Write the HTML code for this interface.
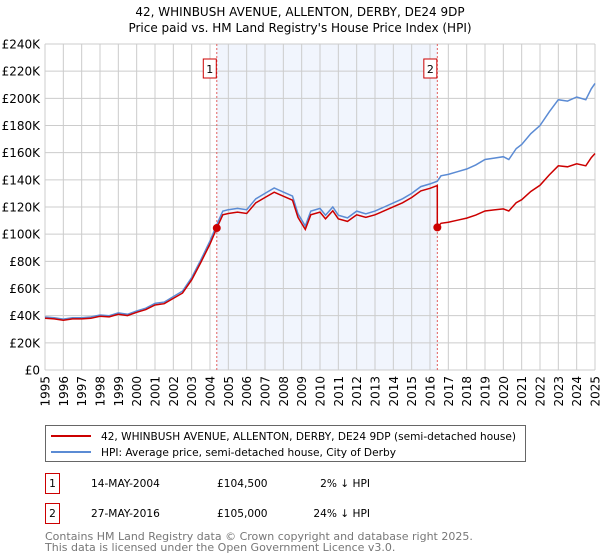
<!DOCTYPE html>
<html><head><meta charset="utf-8"><style>
body{margin:0;background:#fff;font-family:"Liberation Sans","DejaVu Sans",sans-serif;}
#wrap{position:relative;width:600px;height:560px;overflow:hidden;}
</style></head><body>
<div id="wrap">
<svg id="chart" width="600" height="560" style="position:absolute;left:0;top:0;font-family:'DejaVu Sans','Liberation Sans',sans-serif;"></svg>
</div>
<script>
const hpiYears=[1995.0,1995.5,1996.0,1996.5,1997.0,1997.5,1998.0,1998.5,1999.0,1999.5,2000.0,2000.5,2001.0,2001.5,2002.0,2002.5,2003.0,2003.5,2004.0,2004.37,2004.7,2005.0,2005.5,2006.0,2006.5,2007.0,2007.5,2008.0,2008.5,2008.8,2009.2,2009.5,2010.0,2010.3,2010.7,2011.0,2011.5,2012.0,2012.5,2013.0,2013.5,2014.0,2014.5,2015.0,2015.5,2016.0,2016.4,2016.6,2017.0,2017.5,2018.0,2018.5,2019.0,2019.5,2020.0,2020.3,2020.7,2021.0,2021.5,2022.0,2022.5,2023.0,2023.5,2024.0,2024.5,2024.8,2025.0];
const hpiValues=[39,38.5,37.5,38.5,38.5,39,40.5,40,42,41,43.5,45.5,49,50,54,58,68,81,95,107,117,118,119,118,126,130,134,131,128,115,106,117,119,114,120,114,112,117,115,117,120,123,126,130,135,137,139,143,144,146,148,151,155,156,157,155,163,166,174,180,190,199,198,201,199,207,211];
const saleYears=[2004.37,2016.4];
const salePrices=[104.5,105];
const saleLabels=["1","2"];
const yTicks=[0,20,40,60,80,100,120,140,160,180,200,220,240];
const xTicks=[1995,1996,1997,1998,1999,2000,2001,2002,2003,2004,2005,2006,2007,2008,2009,2010,2011,2012,2013,2014,2015,2016,2017,2018,2019,2020,2021,2022,2023,2024,2025];

const NS="http://www.w3.org/2000/svg";
const svg=document.getElementById('chart');
const X0=45,X1=595,Y0=370,Y1=44;
const xs=y=>X0+(y-1995)/30*(X1-X0);
const ys=v=>Y0-v/240*(Y0-Y1);
function mk(t,a,p){const e=document.createElementNS(NS,t);for(const k in a)e.setAttribute(k,a[k]);(p||svg).appendChild(e);return e;}
function hpiAt(y){for(let i=1;i<hpiYears.length;i++){if(y<=hpiYears[i]){const t=(y-hpiYears[i-1])/(hpiYears[i]-hpiYears[i-1]);return hpiValues[i-1]+t*(hpiValues[i]-hpiValues[i-1]);}}return hpiValues[hpiValues.length-1];}

let t;
t=mk('text',{x:300,y:16,'text-anchor':'middle','font-size':12});t.textContent="42, WHINBUSH AVENUE, ALLENTON, DERBY, DE24 9DP";

t=mk('text',{x:300,y:32,'text-anchor':'middle','font-size':12});t.textContent="Price paid vs. HM Land Registry's House Price Index (HPI)";


let r=mk('rect',{x:xs(saleYears[0]),y:Y1,width:xs(saleYears[1])-xs(saleYears[0]),height:Y0-Y1,fill:'#eef3fc',opacity:0.8});


yTicks.forEach(v=>{
  let l=mk('line',{x1:X0,x2:X1,y1:ys(v),y2:ys(v),stroke:'#cccccc','stroke-width':1});
  
  let tx=mk('text',{x:X0-5,y:ys(v)+4.5,'text-anchor':'end','font-size':12,fill:'#000'});tx.textContent='£'+(v===0?'0':v+'K');
  
});
xTicks.forEach(y=>{
  let l=mk('line',{x1:xs(y),x2:xs(y),y1:Y1,y2:Y0,stroke:'#cccccc','stroke-width':1});
  
  let tx=mk('text',{x:0,y:0,'text-anchor':'end','font-size':12,transform:`translate(${xs(y)+4.5},376) rotate(-90)`});tx.textContent=y;
  
});

saleYears.forEach((sy,i)=>{
  let l=mk('line',{x1:xs(sy),x2:xs(sy),y1:Y1,y2:Y0,stroke:'#e06060','stroke-width':1,'stroke-dasharray':'2,2'});
  
  let b=mk('rect',{x:xs(sy)-13.5,y:59,width:13,height:19,fill:'#fff',stroke:'#cc0000','stroke-width':1});
  
  let tx=mk('text',{x:xs(sy)-7,y:73,'text-anchor':'middle','font-size':11});tx.textContent=saleLabels[i];
  
});

let d=hpiYears.map((y,i)=>(i?'L':'M')+xs(y).toFixed(1)+','+ys(hpiValues[i]).toFixed(1)).join('');
let p=mk('path',{d:d,fill:'none',stroke:'#5b8bd4','stroke-width':1.5});


const ratio1=salePrices[0]/hpiAt(saleYears[0]);
const ratio2=salePrices[1]/hpiAt(saleYears[1]);
let pts=[];
hpiYears.forEach((y,i)=>{ if(y<saleYears[1]) pts.push([y,hpiValues[i]*ratio1]); });
pts.push([saleYears[1],hpiAt(saleYears[1])*ratio1]);
pts.push([saleYears[1],salePrices[1]]);
hpiYears.forEach((y,i)=>{ if(y>saleYears[1]) pts.push([y,hpiValues[i]*ratio2]); });
d=pts.map((q,i)=>(i?'L':'M')+xs(q[0]).toFixed(1)+','+ys(q[1]).toFixed(1)).join('');
p=mk('path',{d:d,fill:'none',stroke:'#cc0000','stroke-width':1.5});


saleYears.forEach((sy,i)=>{
  let c=mk('circle',{cx:xs(sy),cy:ys(salePrices[i]),r:4,fill:'#cc0000'});
  
});

let g=mk('rect',{x:45.5,y:425.5,width:480,height:36,fill:'#fff',stroke:'#666','stroke-width':1});

mk('line',{x1:51,x2:91,y1:436,y2:436,stroke:'#cc0000','stroke-width':2});
mk('line',{x1:51,x2:91,y1:452,y2:452,stroke:'#5b8bd4','stroke-width':2});
t=mk('text',{x:101,y:440,'font-size':10.6,textLength:415,lengthAdjust:'spacingAndGlyphs'});t.textContent="42, WHINBUSH AVENUE, ALLENTON, DERBY, DE24 9DP (semi-detached house)";

t=mk('text',{x:101,y:456,'font-size':10.6});t.textContent="HPI: Average price, semi-detached house, City of Derby";


const rows=[["1","14-MAY-2004","£104,500","2% ↓ HPI"],["2","27-MAY-2016","£105,000","24% ↓ HPI"]];
rows.forEach((rw,i)=>{
  const cy=483+i*30;
  let b=mk('rect',{x:45.5,y:cy-9.5,width:14,height:20,fill:'#fff',stroke:'#cc0000','stroke-width':1});
  
  let a=mk('text',{x:52.5,y:cy+4,'text-anchor':'middle','font-size':10.6});a.textContent=rw[0];
  
  a=mk('text',{x:91,y:cy+4,'font-size':10.6});a.textContent=rw[1];
  
  a=mk('text',{x:217,y:cy+4,'font-size':10.6});a.textContent=rw[2];
  
  a=mk('text',{x:370,y:cy+4,'text-anchor':'end','font-size':10.6});a.textContent=rw[3];
  
});
t=mk('text',{x:45,y:540,'font-size':11,fill:'#777'});t.textContent="Contains HM Land Registry data © Crown copyright and database right 2025.";

t=mk('text',{x:45,y:551,'font-size':11,fill:'#777'});t.textContent="This data is licensed under the Open Government Licence v3.0.";

</script>
</body></html>
